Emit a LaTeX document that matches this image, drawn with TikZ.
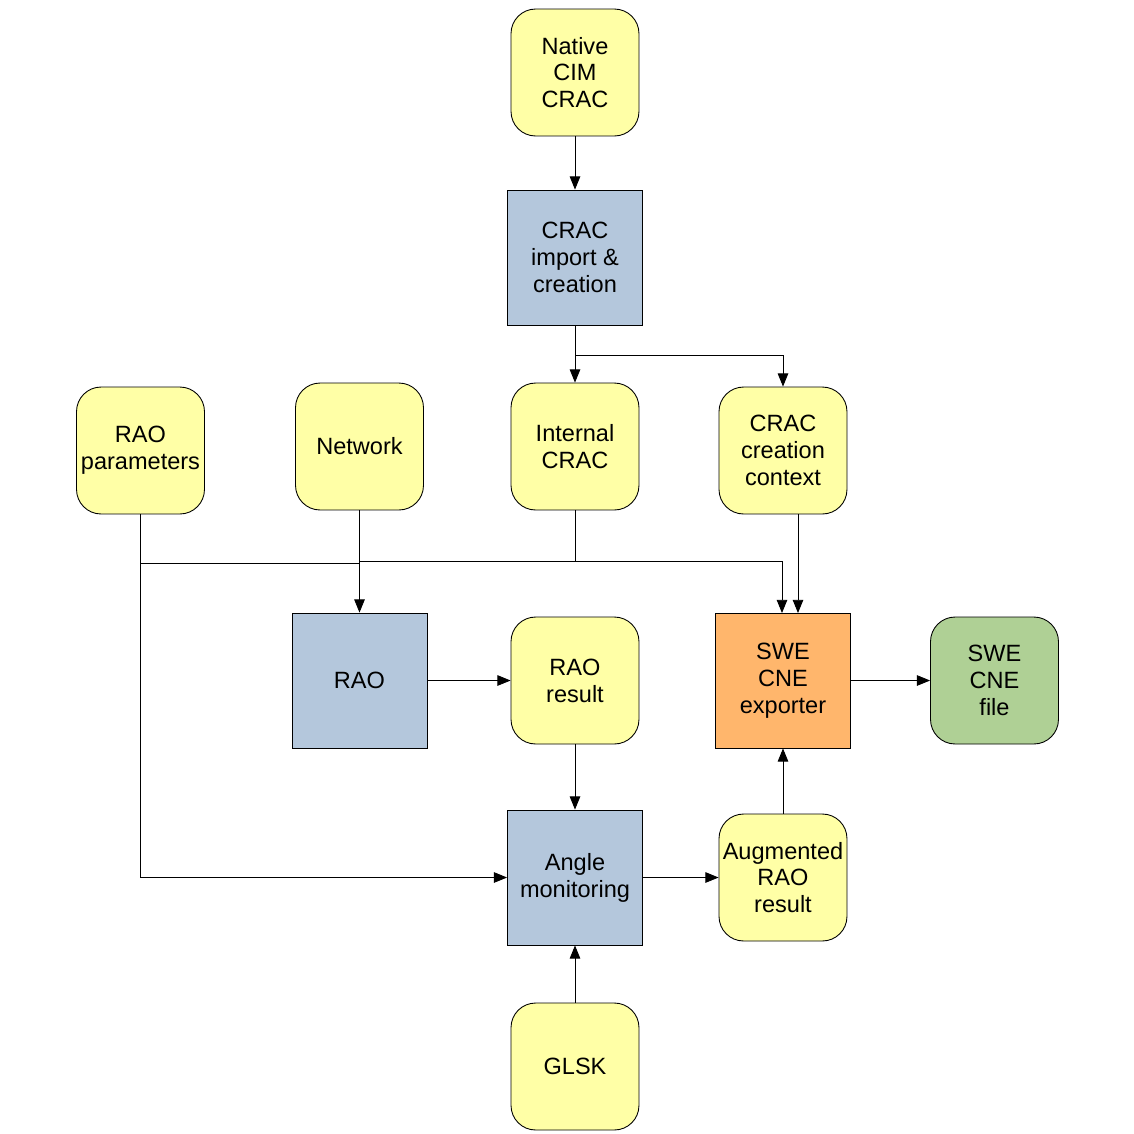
\documentclass[tikz,border=0pt]{standalone}
\usepackage{fontspec}
\setmainfont{Liberation Sans}
\usetikzlibrary{arrows.meta}
\definecolor{cyel}{HTML}{FFFFA6}
\definecolor{cblue}{HTML}{B4C7DC}
\definecolor{corange}{HTML}{FFB66C}
\definecolor{cgreen}{HTML}{AFD095}
\begin{document}
\begin{tikzpicture}[x=0.02cm,y=-0.02cm,
  base/.style={draw=black,line width=0.5pt,inner sep=0pt,align=center,
    font=\fontsize{13.4}{15.3}\selectfont},
  data/.style={base,fill=cyel,rounded corners=14pt,minimum width=2.56cm,minimum height=2.54cm},
  proc/.style={base,fill=cblue,minimum width=2.7cm,minimum height=2.7cm},
  conn/.style={line width=0.5pt,draw=black},
  arr/.style={conn,-{Triangle[length=7.5pt,width=6pt]}}]
\useasboundingbox (0,0) rectangle (1134,1134);
\fill[white] (0,0) rectangle (1134,1134);
\node[data] (nat) at (575,72.5) {Native\\CIM\\CRAC};
\node[proc] (imp) at (575,257.5) {CRAC\\import \&\\creation};
\node[data] (par) at (140.5,450.5) {RAO\\parameters};
\node[data] (net) at (359.5,446.5) {Network};
\node[data] (int) at (575,446.5) {Internal\\CRAC};
\node[data] (ctx) at (783,450.5) {CRAC\\creation\\context};
\node[proc] (rao) at (359.5,680.5) {RAO};
\node[data] (res) at (575,680.5) {RAO\\result};
\node[proc,fill=corange] (exp) at (783,680.5) {SWE\\CNE\\exporter};
\node[data,fill=cgreen] (file) at (994.5,680.5) {SWE\\CNE\\file};
\node[proc] (ang) at (575,877.5) {Angle\\monitoring};
\node[data] (aug) at (783,877.5) {Augmented\\RAO\\result};
\node[data] (glsk) at (575,1066.5) {GLSK};
% junction coordinates
\coordinate (j1) at (575,355);
\coordinate (jp) at (140.5,563);
\coordinate (jn) at (359.5,563);
\coordinate (ji) at (575,561);
\coordinate (jl) at (359.5,561);
\coordinate (ein) at (782,613);
\coordinate (ectx) at (798,613);
\coordinate (ctxo) at (798,514);
% connectors
\draw[arr] (nat) -- (imp);
\draw[conn] (imp.south) -- (j1);
\draw[arr] (j1) -- (int.north);
\draw[arr] (j1) -| (ctx.north);
\draw[arr] (par.south) |- (ang.west);
\draw[conn] (jp) -- (jn);
\draw[arr] (net.south) -- (rao.north);
\draw[conn] (int.south) -- (ji);
\draw[arr] (jl) -| (ein);
\draw[arr] (ctxo) -- (ectx);
\draw[arr] (rao.east) -- (res.west);
\draw[arr] (res.south) -- (ang.north);
\draw[arr] (ang.east) -- (aug.west);
\draw[arr] (aug.north) -- (exp.south);
\draw[arr] (exp.east) -- (file.west);
\draw[arr] (glsk.north) -- (ang.south);
\end{tikzpicture}
\end{document}
